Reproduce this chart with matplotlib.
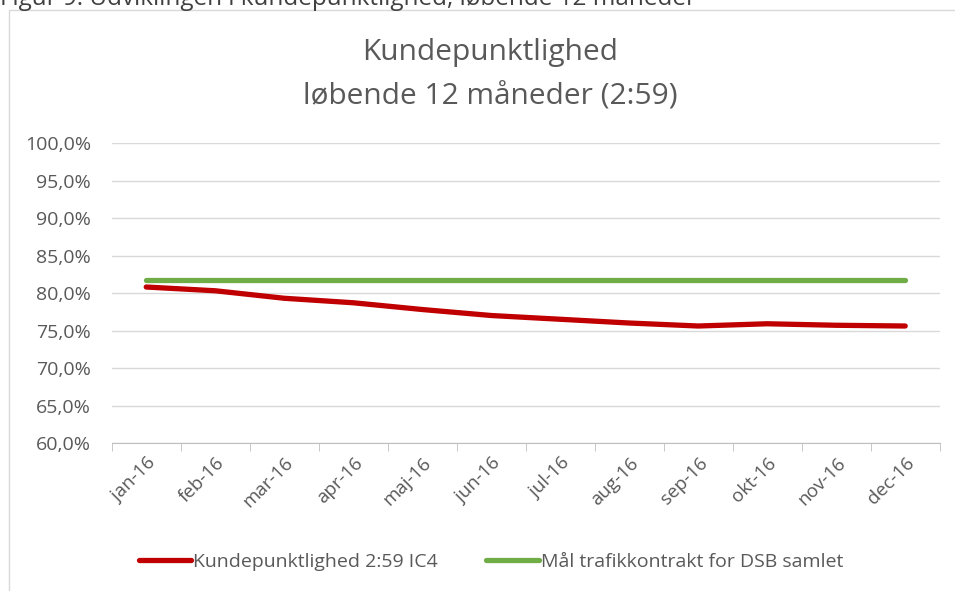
import numpy as np
import matplotlib.pyplot as plt
from matplotlib.patches import Rectangle

months = ['jan-16', 'feb-16', 'mar-16', 'apr-16', 'maj-16', 'jun-16',
          'jul-16', 'aug-16', 'sep-16', 'okt-16', 'nov-16', 'dec-16']
ic4 = [80.8, 80.3, 79.3, 78.7, 77.8, 77.0, 76.5, 76.0, 75.6, 75.9, 75.7, 75.6]
goal = [81.7] * 12
yticks = [60, 65, 70, 75, 80, 85, 90, 95, 100]

plt.rcParams['font.family'] = ['Open Sans', 'DejaVu Sans']
grey = '#595959'

fig = plt.figure(figsize=(9.55, 5.91), dpi=100)
ax = fig.add_axes([0.117, 0.2504, 0.867, 0.5076])

x = np.arange(len(months))
ax.plot(x, ic4, color='#c00000', lw=3.8, solid_capstyle='round',
        label='Kundepunktlighed 2:59 IC4')
ax.plot(x, goal, color='#70ad47', lw=3.8, solid_capstyle='round',
        label='Mål trafikkontrakt for DSB samlet')

ax.set_xlim(-0.5, 11.5)
ax.set_ylim(60, 100)
ax.set_yticks(yticks)
ax.set_yticklabels([f'{v:.1f}%'.replace('.', ',') for v in yticks],
                   color=grey, fontsize=14)
ax.set_xticks(x)
ax.set_xticklabels(months, rotation=45, ha='right', rotation_mode='anchor',
                   color=grey, fontsize=13.5)
ax.tick_params(axis='x', length=0, pad=8)
ax.tick_params(axis='y', length=0, pad=15)
ax.set_xticks(np.arange(-0.5, 12, 1), minor=True)
ax.tick_params(axis='x', which='minor', length=6, color='#bfbfbf')
ax.grid(axis='y', color='#d9d9d9', lw=1)
ax.set_axisbelow(True)
for s in ['top', 'right', 'left']:
    ax.spines[s].set_visible(False)
ax.spines['bottom'].set_color('#bfbfbf')

fig.text(0.513, 0.912, 'Kundepunktlighed', ha='center', va='center',
         fontsize=21.5, color=grey)
fig.text(0.513, 0.836, 'løbende 12 måneder (2:59)', ha='center', va='center',
         fontsize=21.5, color=grey)
fig.text(0.0, 0.9915, 'Figur 9: Udviklingen i kundepunktlighed, løbende 12 måneder',
         ha='left', va='baseline', fontsize=17.5, color='#404040')

fig.patches.append(Rectangle((0.009, -0.01), 1.0, 0.993, transform=fig.transFigure,
                             fill=False, ec='#d9d9d9', lw=1))

fig.legend(loc='center', bbox_to_anchor=(0.514, 0.049), ncol=2, frameon=False,
           fontsize=14, labelcolor=grey, handlelength=2.7, handletextpad=0.1,
           columnspacing=2.5)

fig.savefig('out.png', dpi=100)
